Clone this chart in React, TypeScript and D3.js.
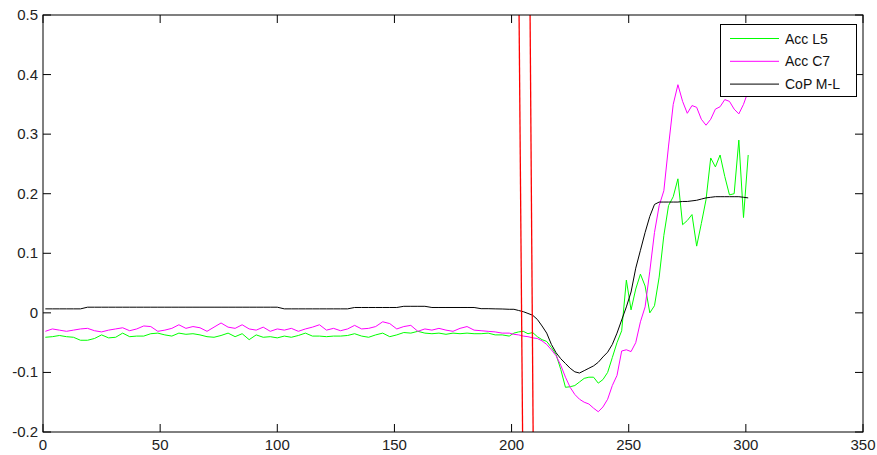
import React from 'react';
import * as d3 from 'd3';

// sample times: coarse on the quiet part, finer where things move
const t = [...d3.range(1, 200, 3), ...d3.range(201, 302, 2)];

const accL5 = [
  -0.041, -0.040, -0.038, -0.040, -0.041, -0.046, -0.046, -0.043, -0.037, -0.042,
  -0.041, -0.034, -0.040, -0.039, -0.039, -0.035, -0.034, -0.037, -0.039, -0.034,
  -0.036, -0.035, -0.037, -0.040, -0.041, -0.038, -0.034, -0.040, -0.035, -0.045,
  -0.037, -0.041, -0.040, -0.042, -0.039, -0.041, -0.038, -0.034, -0.039, -0.039,
  -0.040, -0.039, -0.039, -0.038, -0.035, -0.039, -0.041, -0.037, -0.034, -0.040,
  -0.037, -0.033, -0.034, -0.031, -0.034, -0.035, -0.034, -0.036, -0.034, -0.035,
  -0.034, -0.035, -0.035, -0.034, -0.037, -0.037, -0.039,
  // 201..301
  -0.034, -0.032, -0.031, -0.035, -0.033, -0.040, -0.045, -0.048, -0.058, -0.070,
  -0.095, -0.125, -0.124, -0.122, -0.116, -0.110, -0.108, -0.108, -0.118, -0.112,
  -0.100, -0.075, -0.050, -0.030, 0.055, 0.005, 0.040, 0.065, 0.045, 0.000,
  0.012, 0.060, 0.130, 0.180, 0.195, 0.225, 0.148, 0.155, 0.165, 0.112,
  0.150, 0.190, 0.260, 0.245, 0.265, 0.229, 0.198, 0.200, 0.290, 0.160,
  0.265,
];

const accC7 = [
  -0.031, -0.027, -0.029, -0.031, -0.029, -0.027, -0.026, -0.030, -0.032, -0.029,
  -0.027, -0.025, -0.030, -0.027, -0.022, -0.023, -0.031, -0.029, -0.026, -0.020,
  -0.026, -0.023, -0.025, -0.031, -0.024, -0.017, -0.024, -0.026, -0.020, -0.027,
  -0.029, -0.024, -0.031, -0.027, -0.029, -0.026, -0.031, -0.027, -0.024, -0.020,
  -0.029, -0.026, -0.030, -0.027, -0.021, -0.027, -0.026, -0.023, -0.015, -0.018,
  -0.027, -0.023, -0.021, -0.031, -0.027, -0.029, -0.026, -0.029, -0.031, -0.026,
  -0.023, -0.029, -0.030, -0.031, -0.032, -0.034, -0.034,
  // 201..301
  -0.036, -0.037, -0.039, -0.040, -0.042, -0.043, -0.047, -0.053, -0.062, -0.072,
  -0.088, -0.108, -0.125, -0.137, -0.145, -0.150, -0.153, -0.160, -0.166, -0.158,
  -0.145, -0.122, -0.105, -0.064, -0.062, -0.065, -0.050, -0.015, 0.010, 0.070,
  0.135, 0.180, 0.205, 0.280, 0.350, 0.383, 0.355, 0.335, 0.348, 0.345,
  0.325, 0.315, 0.325, 0.342, 0.346, 0.358, 0.355, 0.342, 0.334, 0.350,
  0.372,
];

const copML = [
  0.0067, 0.0067, 0.0067, 0.0067, 0.0067, 0.0067,
  0.0095, 0.0095, 0.0095, 0.0095, 0.0095, 0.0095, 0.0095, 0.0095, 0.0095, 0.0095,
  0.0095, 0.0095, 0.0095, 0.0095, 0.0095, 0.0095, 0.0095, 0.0095, 0.0095, 0.0095,
  0.0095, 0.0095, 0.0095, 0.0095, 0.0095, 0.0095, 0.0095, 0.0095,
  0.0067, 0.0067, 0.0067, 0.0067, 0.0067, 0.0067, 0.0067, 0.0067, 0.0067, 0.0067,
  0.009, 0.009, 0.009, 0.009, 0.009, 0.009, 0.009,
  0.011, 0.011, 0.011, 0.011,
  0.009, 0.009, 0.009, 0.009, 0.009, 0.009, 0.009,
  0.007, 0.007, 0.0067, 0.0065, 0.006,
  // 201..301
  0.006, 0.004, 0.002, -0.001, -0.004, -0.011, -0.022, -0.034, -0.053, -0.067,
  -0.077, -0.085, -0.093, -0.099, -0.101, -0.097, -0.093, -0.089, -0.083, -0.074,
  -0.066, -0.053, -0.034, -0.012, 0.010, 0.035, 0.075, 0.105, 0.135, 0.162,
  0.182, 0.186, 0.186, 0.186, 0.186, 0.186, 0.187, 0.187, 0.188, 0.189,
  0.191, 0.193, 0.194, 0.195, 0.195, 0.195, 0.195, 0.195, 0.195, 0.194,
  0.193,
];

// the two red markers, slightly slanted (x at top, x at bottom)
const markerTop = [203.2, 207.9];
const markerBottom = [204.7, 209.2];

const xTicks = [0, 50, 100, 150, 200, 250, 300, 350];
const yTicks = [-0.2, -0.1, 0, 0.1, 0.2, 0.3, 0.4, 0.5];
const legendNames = ['Acc L5', 'Acc C7', 'CoP M-L'];
const colors = ['#00ff00', '#ff00ff', '#000000'];

const App = () => {
  const W = 877, H = 455;
  const left = 43, right = 863, top = 15, bottom = 432;
  const tick = 8;

  const x = d3.scaleLinear().domain([0, 350]).range([left, right]);
  const y = d3.scaleLinear().domain([-0.2, 0.5]).range([bottom, top]);

  const series = [accL5, accC7, copML];
  const line = d3.line<number>()
    .x((d, i) => x(t[i]))
    .y(d => y(d));

  const font = '"Liberation Sans", Arial, sans-serif';

  return (
    <svg width={W} height={H} style={{position: 'absolute', left: 0, top: 0, background: '#fff'}}>
      <defs>
        <clipPath id="plot">
          <rect x={left} y={top} width={right - left} height={bottom - top} />
        </clipPath>
      </defs>

      <g clipPath="url(#plot)">
        {series.map((s, i) => (
          <path key={i} d={line(s) || ''} fill="none" stroke={colors[i]} strokeWidth={1} />
        ))}
        {markerTop.map((m, i) => (
          <line key={i} x1={x(m)} y1={y(0.5)} x2={x(markerBottom[i])} y2={y(-0.2)}
            stroke="#ff0000" strokeWidth={1.3} />
        ))}
      </g>

      {/* axes box */}
      <rect x={left} y={top} width={right - left} height={bottom - top}
        fill="none" stroke="#000" strokeWidth={1} />

      {xTicks.map(v => (
        <g key={v}>
          <line x1={x(v)} x2={x(v)} y1={bottom} y2={bottom - tick} stroke="#000" />
          <line x1={x(v)} x2={x(v)} y1={top} y2={top + tick} stroke="#000" />
          <text x={x(v)} y={450} textAnchor="middle" fontFamily={font} fontSize={15} fill="#222">{v}</text>
        </g>
      ))}
      {yTicks.map(v => (
        <g key={v}>
          <line x1={left} x2={left + tick} y1={y(v)} y2={y(v)} stroke="#000" />
          <line x1={right} x2={right - tick} y1={y(v)} y2={y(v)} stroke="#000" />
          <text x={38} y={y(v) + 5} textAnchor="end" fontFamily={font} fontSize={15} fill="#222">
            {v === 0 ? '0' : d3.format('.1f')(v).replace('−', '-')}
          </text>
        </g>
      ))}

      {/* legend */}
      <rect x={720.5} y={24.5} width={136} height={72} fill="#fff" stroke="#000" strokeWidth={1} />
      {legendNames.map((n, i) => {
        const ly = 38.5 + i * 22.8;
        return (
          <g key={n}>
            <line x1={730} x2={779} y1={ly} y2={ly} stroke={colors[i]} strokeWidth={1} />
            <text x={785} y={ly + 5} fontFamily={font} fontSize={14} fill="#111">{n}</text>
          </g>
        );
      })}
    </svg>
  );
};

export default App;
